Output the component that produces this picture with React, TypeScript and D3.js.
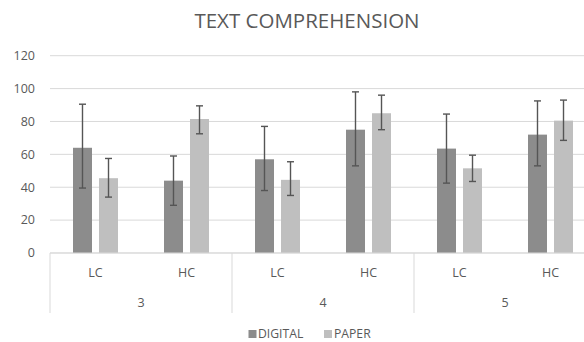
import React from "react";
import * as d3 from "d3";

const groups = ["3", "4", "5"];
const levels = ["LC", "HC"];
const series = ["DIGITAL", "PAPER"];

// values per (group, level) in order: 3-LC, 3-HC, 4-LC, 4-HC, 5-LC, 5-HC
const digital = [64, 44, 57, 75, 63.5, 72];
const digitalLow = [39.5, 29, 38, 53, 42.5, 53];
const digitalHigh = [90.5, 59, 77, 98, 84.5, 92.5];
const paper = [45.5, 81.5, 44.5, 85, 51.5, 80.5];
const paperLow = [34, 72.5, 35, 75, 43.5, 68.5];
const paperHigh = [57.5, 89.5, 55.5, 96, 59.5, 93];

const yTicks = [0, 20, 40, 60, 80, 100, 120];

const colors = { DIGITAL: "#8c8c8c", PAPER: "#bfbfbf" };
const textColor = "#595959";
const gridColor = "#d9d9d9";
const font = "'Open Sans', sans-serif";

const width = 584;
const height = 342;
const left = 50;
const right = 596;
const top = 55.7;
const bottom = 253;

export default function App() {
  const y = d3.scaleLinear().domain([0, 120]).range([bottom, top]);
  const xGroup = d3.scaleBand().domain(groups).range([left, right]);
  const xLevel = d3.scaleBand().domain(levels).range([0, xGroup.bandwidth()]);

  const rows = groups.flatMap((g, gi) =>
    levels.map((l, li) => {
      const i = gi * levels.length + li;
      return {
        g,
        l,
        values: [
          { s: "DIGITAL", v: digital[i], lo: digitalLow[i], hi: digitalHigh[i] },
          { s: "PAPER", v: paper[i], lo: paperLow[i], hi: paperHigh[i] },
        ],
      };
    })
  );

  return (
    <svg
      width={width}
      height={height}
      style={{ position: "absolute", left: 0, top: 0, background: "#fff" }}
      fontFamily={font}
    >
      <text x={307} y={27.5} textAnchor="middle" fontSize={20.5} fill={textColor}>
        TEXT COMPREHENSION
      </text>

      {/* grid + y labels */}
      {yTicks.map((t) => (
        <g key={t}>
          <line x1={left} x2={width} y1={y(t)} y2={y(t)} stroke={gridColor} strokeWidth={1} />
          <text x={35} y={y(t)} dy="0.35em" textAnchor="end" fontSize={12.5} fill={textColor}>
            {t}
          </text>
        </g>
      ))}

      {/* bars and error bars */}
      {rows.map((r) => {
        const x0 = (xGroup(r.g) ?? 0) + (xLevel(r.l) ?? 0);
        const c = x0 + xLevel.bandwidth() / 2;
        const xs = d3.scaleBand().domain(series).range([c - 22.5, c + 22.5]).paddingInner(0.27);
        return (
          <g key={r.g + r.l}>
            {r.values.map((d) => {
              const bx = (xs(d.s) ?? 0);
              const mx = bx + xs.bandwidth() / 2;
              return (
                <g key={d.s}>
                  <rect
                    x={bx}
                    y={y(d.v)}
                    width={xs.bandwidth()}
                    height={y(0) - y(d.v)}
                    fill={colors[d.s as keyof typeof colors]}
                  />
                  <line x1={mx} x2={mx} y1={y(d.lo)} y2={y(d.hi)} stroke="#555" strokeWidth={1.4} />
                  <line x1={mx - 3.5} x2={mx + 3.5} y1={y(d.hi)} y2={y(d.hi)} stroke="#555" strokeWidth={1.4} />
                  <line x1={mx - 3.5} x2={mx + 3.5} y1={y(d.lo)} y2={y(d.lo)} stroke="#555" strokeWidth={1.4} />
                </g>
              );
            })}
            <text x={c} y={273} dy="0.35em" textAnchor="middle" fontSize={12.5} fill={textColor}>
              {r.l}
            </text>
          </g>
        );
      })}

      {/* category axis */}
      <line x1={left} x2={width} y1={bottom} y2={bottom} stroke={gridColor} strokeWidth={1} />
      {groups.map((g) => (
        <g key={g}>
          <line
            x1={xGroup(g)}
            x2={xGroup(g)}
            y1={bottom}
            y2={313}
            stroke={gridColor}
            strokeWidth={1}
          />
          <text
            x={(xGroup(g) ?? 0) + xGroup.bandwidth() / 2}
            y={303}
            dy="0.35em"
            textAnchor="middle"
            fontSize={12.5}
            fill={textColor}
          >
            {g}
          </text>
        </g>
      ))}

      {/* legend */}
      <g fontSize={12.2} fill={textColor}>
        <rect x={248.5} y={330} width={8} height={8} fill={colors.DIGITAL} />
        <text x={258} y={333.5} dy="0.35em">DIGITAL</text>
        <rect x={324} y={330} width={8} height={8} fill={colors.PAPER} />
        <text x={334} y={333.5} dy="0.35em">PAPER</text>
      </g>
    </svg>
  );
}
